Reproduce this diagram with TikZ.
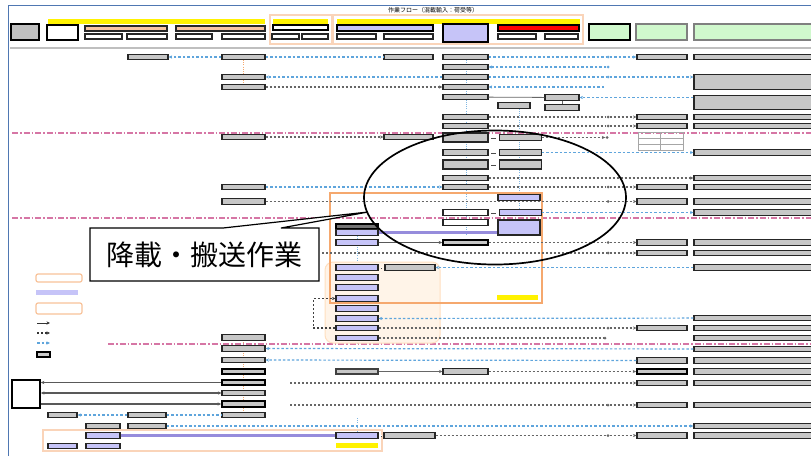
\documentclass[tikz,border=0pt]{standalone}
\usepackage{fontspec}
\newfontfamily\jpfont{Noto Sans CJK JP}
\usetikzlibrary{arrows.meta,positioning,calc,shapes.geometric}
\definecolor{frameblue}{RGB}{79,119,178}
\definecolor{refblue}{RGB}{95,165,220}
\definecolor{zonepink}{RGB}{214,118,165}
\definecolor{lavender}{RGB}{198,196,248}
\definecolor{cargopurple}{RGB}{150,140,220}
\definecolor{peach}{RGB}{248,196,160}
\definecolor{panelorange}{RGB}{250,212,185}
\definecolor{frameorange}{RGB}{245,168,110}
\definecolor{mint}{RGB}{208,248,205}
\tikzset{
  % Base styles
  diagram base/.style={>={Stealth[length=3.5pt,width=3.2pt]}, x=1pt, y=-1pt},
  % Boxes
  flow box/.style={rectangle, draw=black!85, line width=1.1pt, fill=black!22, minimum height=5.5pt, inner sep=0pt},
  purple box/.style={flow box, fill=lavender},
  key box/.style={line width=1.7pt, draw=black},
  legend box/.style={rectangle, rounded corners=2pt, draw=frameorange!70, line width=1.2pt, fill=white, minimum width=46pt, minimum height=8pt, inner sep=0pt},
  join dot/.style={circle, fill=black!60, inner sep=0pt, minimum size=3pt},
  % Column widths
  col A/.style={minimum width=40pt},
  col B/.style={minimum width=43pt},
  col C/.style={minimum width=49pt},
  col D/.style={minimum width=45pt},
  col E/.style={minimum width=42pt},
  col Q/.style={minimum width=34pt},
  col F/.style={minimum width=50pt},
  col G/.style={minimum width=121pt},
  col P/.style={minimum width=42pt},
  % Lines
  ref line/.style={draw=refblue, line width=1.2pt, dash pattern=on 2.5pt off 2pt},
  act line/.style={draw=black!60, line width=1.1pt, dash pattern=on 2pt off 2pt},
  zone line/.style={draw=zonepink, line width=1.1pt, dash pattern=on 6pt off 2pt on 1.5pt off 2pt},
  guide/.style={draw=refblue!80, line width=0.6pt, dash pattern=on 1pt off 1.2pt},
  plain line/.style={draw=black!60, line width=0.8pt},
  heavy line/.style={draw=black!65, line width=1.2pt},
  cargo line/.style={draw=cargopurple, line width=2.5pt},
  eq link/.style={draw=black!70, line width=0.45pt, double, double distance=1.1pt, shorten <=2.5pt, shorten >=2.5pt},
}

\begin{document}
\begin{tikzpicture}[diagram base]
\useasboundingbox (0,0) rectangle (811,456);
\clip (0,0) rectangle (811,456);

% Frame and title
\draw[frameblue, line width=1pt] (8,456) -- (8,5) -- (811,5);
\node[font=\jpfont\fontsize{6}{7}\selectfont] (title) at (433,10.5) {作業フロー（混載輸入：荷受等）};

% Header
\fill[yellow] (48,19) rectangle (265,24);
\draw[panelorange, line width=1.5pt, fill=white] (270,15) rectangle (332,44);
\draw[panelorange, line width=1.5pt, fill=white] (333,15) rectangle (583,44);
\fill[yellow] (273,19) rectangle (328,23.5);
\fill[yellow] (337,19) rectangle (580,24);
\node[flow box, key box, fill=black!25, minimum width=28pt, minimum height=16pt] (hA) at (25,32) {};
\node[flow box, key box, fill=white, minimum width=31pt, minimum height=15pt] (hB) at (62.5,32.5) {};
\node[flow box, fill=peach, minimum width=82pt, minimum height=5pt] (hC) at (126,28.5) {};
\node[flow box, fill=peach, minimum width=89pt, minimum height=5pt] (hD) at (220.5,28.5) {};
\node[flow box, fill=white, minimum width=37pt, minimum height=5pt] (hC1) at (103.5,36.5) {};
\node[flow box, fill=white, minimum width=40pt, minimum height=5pt] (hC2) at (147,36.5) {};
\node[flow box, fill=white, minimum width=36pt, minimum height=5pt] (hD1) at (194,36.5) {};
\node[flow box, fill=white, minimum width=43pt, minimum height=5pt] (hD2) at (243.5,36.5) {};
\node[flow box, key box, fill=white, minimum width=55pt, minimum height=5pt] (hE) at (300.5,27.5) {};
\node[flow box, fill=white, minimum width=27pt, minimum height=5pt] (hE1) at (285.5,36.5) {};
\node[flow box, fill=white, minimum width=26pt, minimum height=5pt] (hE2) at (315,36.5) {};
\node[flow box, key box, fill=lavender, minimum width=96pt, minimum height=6pt] (hF) at (385,28) {};
\node[flow box, fill=white, minimum width=39pt, minimum height=5pt] (hF1) at (356.5,36.5) {};
\node[flow box, fill=white, minimum width=49pt, minimum height=5pt] (hF2) at (408.5,36.5) {};
\node[flow box, key box, fill=lavender, minimum width=45pt, minimum height=18pt] (hG) at (465.5,33) {};
\node[flow box, key box, fill=red, minimum width=81pt, minimum height=6pt] (hH) at (538.5,28) {};
\node[flow box, fill=white, minimum width=38pt, minimum height=5pt] (hH1) at (517,36.5) {};
\node[flow box, fill=white, minimum width=33pt, minimum height=5pt] (hH2) at (561.5,36.5) {};
\node[flow box, key box, fill=mint, minimum width=41pt, minimum height=16pt] (hI) at (609.5,32) {};
\node[flow box, draw=black!50, fill=mint, minimum width=51pt, minimum height=16pt] (hJ) at (661.5,32) {};
\node[flow box, draw=black!50, fill=mint, minimum width=121pt, minimum height=16pt] (hK) at (754.5,32) {};
\draw[black!25, line width=2pt] (10,47.5) -- (811,47.5);

% Guides, zones and frames
\draw[guide, draw=frameorange] (243,60) -- (243,90);
\draw[guide] (466,60) -- (466,236);
\draw[guide] (519,102) -- (519,215);
\draw[guide] (357,229) -- (357,345);
\draw[guide, draw=frameorange] (243,340) -- (243,418);
\draw[guide] (357,418) -- (357,436);
\draw[zone line] (12,133) -- (811,133);
\draw[zone line] (12,218) -- (811,218);
\draw[zone line] (108,344) -- (811,344);
\fill[orange!9, draw=orange!25, line width=1pt, rounded corners=8pt] (325,262) rectangle (440,343);
\draw[frameorange, line width=1.5pt] (330,193) rectangle (542,303);
\draw[panelorange, line width=1.5pt] (43,430) rectangle (382,451);
\fill[yellow] (497,295) rectangle (538,300);
\fill[yellow] (336,443) rectangle (378,448);

% Upper rows
\node[flow box, col A] (a57) at (148,57) {};
\node[flow box, col B] (b57) at (243.5,57) {};
\node[flow box, col C] (c57) at (408.5,57) {};
\node[flow box, col D] (d57) at (465.5,57) {};
\node[flow box, col F] (f57) at (662,57) {};
\node[flow box, col G] (g57) at (754.5,57) {};
\node[join dot, fill=refblue] (j57) at (608,57) {};
\draw[ref line,->] (b57) -- (a57);
\draw[ref line] (b57) -- (c57);
\draw[eq link] (c57) -- (d57);
\draw[ref line] (d57) -- (j57);
\draw[ref line,->] (j57) -- (f57);

\node[flow box, col D] (d67) at (465.5,67) {};
\node[join dot, fill=refblue] (j67) at (608,67) {};
\draw[ref line,->] (j67) -- (d67);

\node[flow box, col B] (b77) at (243.5,77) {};
\node[flow box, col D] (d77) at (465.5,77) {};
\node[flow box, col G, minimum height=15pt] (g77) at (754.5,82) {};
\node[join dot, fill=refblue] (j77) at (608,77) {};
\draw[ref line,->] (d77) -- (b77);
\draw[ref line] (d77) -- (j77);
\draw[ref line,->] (j77) -- (j77 -| g77.west);

\node[flow box, col B] (b87) at (243.5,87) {};
\node[flow box, col D] (d87) at (465.5,87) {};
\coordinate (k87) at (604,87);
\draw[act line,->] (b87) -- (d87);
\draw[ref line,->] (k87) -- (d87);

\node[flow box, col D] (d97) at (465.5,97) {};
\node[flow box, col Q] (q97) at (562,97.5) {};
\node[flow box, col G, minimum height=14pt] (g97) at (754.5,102.5) {};
\draw[plain line] (d97) -- (q97);
\draw[ref line,->] (g97.west |- q97) -- (q97);
\node[flow box, minimum width=32pt] (e106) at (514,105.5) {};
\node[flow box, col Q] (q107) at (562,107.5) {};
\draw[plain line] (q97) -- (q107);

\node[flow box, col D] (d117) at (465.5,117) {};
\node[flow box, col F] (f117) at (662,117) {};
\node[flow box, col G] (g117) at (754.5,117) {};
\node[join dot] (j117) at (608,117) {};
\draw[act line] (d117) -- (j117);
\draw[act line,->] (j117) -- (f117);

\node[flow box, col D] (d126) at (465.5,126) {};
\node[flow box, col F] (f126) at (662,126) {};
\node[flow box, col G] (g126) at (754.5,126) {};
\node[join dot] (j126) at (608,126) {};
\draw[act line] (d126) -- (j126);
\draw[act line,->] (j126) -- (f126);

% Middle rows
\node[flow box, col B] (b137) at (243.5,137) {};
\node[flow box, col C] (c137) at (408.5,137) {};
\node[flow box, col D, minimum height=9pt] (d137) at (465.5,137.5) {};
\node[flow box, col E, right=10pt of d137] (e137) {};
\node[join dot] (j137) at (607,137.5) {};
\draw[act line,->] (b137) -- (c137);
\draw[eq link] (d137) -- (e137);
\draw[act line,->] (e137) -- (j137);
\draw[black!35, line width=0.5pt] (638,132) rectangle (683,150) (660.5,132) -- (660.5,150) (638,138) -- (683,138) (638,144) -- (683,144);

\node[flow box, col D] (d152) at (465.5,152.5) {};
\node[flow box, col E, right=10pt of d152] (e152) {};
\node[flow box, col G] (g152) at (754.5,152.5) {};
\draw[eq link] (d152) -- (e152);
\draw[ref line,->] (e152) -- (g152);

\node[flow box, col D, minimum height=9pt] (d164) at (465.5,164.5) {};
\node[flow box, col E, minimum height=9pt, right=10pt of d164] (e164) {};
\draw[eq link] (d164) -- (e164);

\node[flow box, col D] (d178) at (465.5,178) {};
\node[flow box, col G] (g178) at (754.5,178) {};
\draw[act line,->] (d178) -- (g178);

\node[flow box, col B] (b187) at (243.5,187) {};
\node[flow box, col D] (d187) at (465.5,187) {};
\node[flow box, col F] (f187) at (662,187) {};
\node[flow box, col G] (g187) at (754.5,187) {};
\node[join dot] (j187) at (608,187) {};
\draw[ref line,->] (b187) -- (d187);
\draw[act line] (d187) -- (j187);
\draw[act line,->] (j187) -- (f187);

\node[purple box, col E] (e197) at (519,197.5) {};
\node[flow box, col B] (b201) at (243.5,201.5) {};
\node[flow box, col F] (f201) at (662,201.5) {};
\node[flow box, col G] (g201) at (754.5,201.5) {};
\node[join dot] (j201) at (608,201.5) {};
\draw[act line] (b201) -- (j201);
\draw[act line,->] (j201) -- (f201);

\node[flow box, col D, fill=white] (d212) at (465.5,212.5) {};
\node[purple box, col E, right=10pt of d212] (e212) {};
\node[flow box, col G] (g212) at (754.5,212.5) {};
\draw[eq link] (d212) -- (e212);
\draw[ref line,->] (e212) -- (g212);

% Unloading block
\node[flow box, col D, fill=white] (d222) at (465.5,222.5) {};
\node[purple box, col E, minimum height=15pt] (e227) at (519,227.5) {};
\node[flow box, col P, key box, fill=black!55] (p227) at (357,226.5) {};
\node[purple box, col P] (p232) at (357,232.5) {};
\node[purple box, col P] (p242) at (357,242.5) {};
\draw[cargo line] (p232) -- (p232 -| e227.west);
\node[flow box, col D, key box] (d242) at (465.5,242.5) {};
\node[flow box, col F] (f242) at (662,242.5) {};
\node[flow box, col G] (g242) at (754.5,242.5) {};
\node[join dot] (j242) at (608,242.5) {};
\draw[heavy line,->] (p242) -- (d242);
\draw[act line] (d242) -- (j242);
\draw[act line,->] (j242) -- (f242);

\coordinate (s253) at (322,253);
\node[flow box, col F] (f253) at (662,253) {};
\node[flow box, col G] (g253) at (754.5,253) {};
\node[join dot] (j253) at (608,253) {};
\draw[act line] (s253) -- (j253);
\draw[act line,->] (j253) -- (f253);

\node[purple box, col P] (p267) at (357,267.5) {};
\node[flow box, minimum width=50pt] (c267) at (410,267.5) {};
\node[flow box, col G] (g267) at (754.5,267.5) {};
\draw[eq link] (p267) -- (c267);
\draw[ref line,->] (g267) -- (c267);

\node[purple box, col P] (p277) at (357,277.5) {};
\node[purple box, col P] (p287) at (357,287.5) {};
\node[purple box, col P] (p298) at (357,298.5) {};
\node[purple box, col P] (p308) at (357,308.5) {};
\node[purple box, col P] (p318) at (357,318.5) {};
\node[purple box, col P] (p328) at (357,328) {};
\node[purple box, col P] (p338) at (357,338) {};
\draw[act line, draw=black!75,->] (p328.west) -- ++(-22,0) |- (p298.west);

\node[flow box, col G] (g318) at (754.5,318) {};
\draw[ref line,->] (g318) -- (p318);

\node[flow box, col F] (f328) at (662,328) {};
\node[flow box, col G] (g328) at (754.5,328) {};
\node[join dot] (j328) at (608,328) {};
\draw[act line] (p328) -- (j328);
\draw[act line,->] (j328) -- (f328);

\node[flow box, col G] (g338) at (754.5,338) {};
\node[join dot] (j338) at (605,338) {};
\draw[act line] (p338) -- (j338);

% Lower rows
\node[flow box, col B] (b337) at (243.5,337.5) {};
\node[flow box, col B] (b348) at (243.5,348.5) {};
\node[flow box, col B] (b360) at (243.5,360) {};
\node[flow box, col B, key box] (b371) at (243.5,371.5) {};
\node[flow box, col B, key box] (b383) at (243.5,382.5) {};
\node[flow box, col B] (b393) at (243.5,393) {};
\node[flow box, col B, key box] (b404) at (243.5,404) {};
\node[flow box, col B] (b415) at (243.5,415) {};

\node[flow box, col G] (g348) at (754.5,349) {};
\draw[ref line,->] (g348) -- (b348);

\node[flow box, col F] (f360) at (662,360.5) {};
\node[flow box, col G] (g360) at (754.5,360.5) {};
\draw[ref line,->] (f360) -- (b360);

\node[flow box, col P, key box, draw=black!75] (r371) at (357,371.5) {};
\node[flow box, col D] (d371) at (465.5,371.5) {};
\node[flow box, col F, key box] (f371) at (662,371.5) {};
\node[flow box, col G] (g371) at (754.5,371.5) {};
\draw[plain line,->] (r371) -- (d371);
\draw[act line,->] (d371) -- (f371);

\node[flow box, key box, fill=white, minimum width=28pt, minimum height=28pt] (ship) at (26,394) {};
\draw[heavy line,->] (b383) -- (b383 -| ship.east);
\draw[heavy line,<->] (ship.east |- b393) -- (b393);
\draw[heavy line,->] (ship.east |- b404) -- (b404);

\coordinate (t383) at (290,383);
\node[flow box, col F] (f383) at (662,383) {};
\node[flow box, col G] (g383) at (754.5,383) {};
\draw[act line,->] (t383) -- (f383);

\coordinate (t405) at (290,405);
\node[flow box, col F] (f405) at (662,405) {};
\node[flow box, col G] (g405) at (754.5,405) {};
\node[join dot] (j405) at (608,405) {};
\draw[act line] (t405) -- (j405);
\draw[act line,->] (j405) -- (f405);

\node[flow box, minimum width=29pt] (l415) at (62.5,415) {};
\node[flow box, minimum width=38pt] (m415) at (147,415) {};
\draw[ref line,->] (m415) -- (l415);
\draw[ref line] (m415) -- (b415);

\node[flow box, minimum width=34pt] (n426) at (103,426) {};
\node[flow box, minimum width=38pt] (m426) at (147,426) {};
\node[flow box, col G] (g426) at (754.5,426) {};
\draw[eq link] (n426) -- (m426);
\draw[ref line,->] (m426) -- (g426);

\node[purple box, minimum width=34pt] (n436) at (103,435.5) {};
\node[purple box, col P] (p436) at (357,435.5) {};
\node[flow box, minimum width=51pt] (c436) at (409.5,435.5) {};
\node[flow box, col F] (f436) at (662,435.5) {};
\node[flow box, col G] (g436) at (754.5,435.5) {};
\node[join dot] (j436) at (608,435.5) {};
\draw[cargo line] (n436) -- (p436);
\draw[eq link] (p436) -- (c436);
\draw[act line] (c436) -- (j436);
\draw[act line,->] (j436) -- (f436);

\node[purple box, minimum width=29pt] (l446) at (62.5,446) {};
\node[purple box, minimum width=34pt] (n446) at (103,446) {};
\draw[eq link] (l446) -- (n446);

% Legend
\node[legend box] (lgA) at (59,278) {};
\node[flow box, draw=none, fill=lavender, minimum width=42pt, minimum height=5pt] (lgB) at (57,292.5) {};
\node[legend box, minimum height=11pt] (lgC) at (59,308.5) {};
\coordinate (lgD1) at (37,323); \coordinate (lgD2) at (50,323);
\coordinate (lgE1) at (37,333); \coordinate (lgE2) at (50,333);
\coordinate (lgF1) at (37,343); \coordinate (lgF2) at (50,343);
\draw[plain line, draw=black!80,->] (lgD1) -- (lgD2);
\draw[act line, draw=black!80,->] (lgE1) -- (lgE2);
\draw[ref line,->] (lgF1) -- (lgF2);
\node[flow box, key box, fill=black!20, minimum width=13pt, minimum height=5pt] (lgG) at (43.5,354.5) {};

% Highlight and callout
\draw[line width=1.7pt] (495,197.5) ellipse [x radius=131pt, y radius=67pt];
\draw[fill=white, line width=1.2pt] (90,228) -- (223,228) -- (368,212) -- (281,228) -- (319,228) -- (319,281) -- (90,281) -- cycle;
\node[font=\jpfont\fontsize{28}{30}\selectfont] (callout) at (204.5,255) {降載・搬送作業};
\end{tikzpicture}
\end{document}
